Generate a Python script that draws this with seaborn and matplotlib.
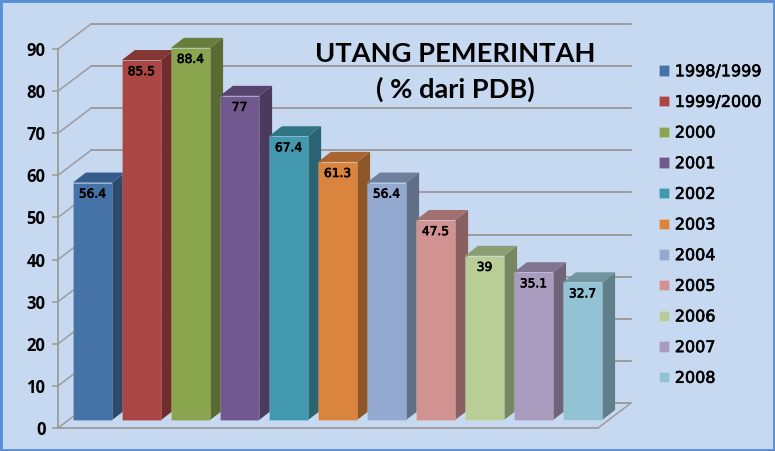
import matplotlib
matplotlib.use('Agg')
import matplotlib.pyplot as plt
import matplotlib.patheffects as pe
import pandas as pd
import seaborn as sns
from matplotlib.patches import Polygon, Rectangle

periods = ['1998/1999', '1999/2000', '2000', '2001', '2002', '2003',
           '2004', '2005', '2006', '2007', '2008']
debt = [56.4, 85.5, 88.4, 77, 67.4, 61.3, 56.4, 47.5, 39, 35.1, 32.7]
front_colors = ['#4572A7', '#AA4643', '#89A54E', '#71588F', '#4198AF', '#DB843D',
                '#93A9CF', '#D19392', '#B9CD96', '#A99BBD', '#92C3D4']
side_colors = ['#2D4A6D', '#6F2E2C', '#596B33', '#4A3A5D', '#2A6372', '#8F5628',
               '#606E87', '#886060', '#798662', '#6E657B', '#5F7F8A']
top_colors = ['#355C8A', '#843634', '#687E3C', '#57446E', '#317585', '#A86530',
              '#707F9D', '#A07070', '#8D9D73', '#817690', '#70959F']
y_ticks = [0, 10, 20, 30, 40, 50, 60, 70, 80, 90]

bg = '#C6D9F1'
W, H = 775, 451
PX_PER_UNIT = 4.21
BAR_PITCH = 49

df = pd.DataFrame({'period': periods, 'debt': debt})

sns.set_style('white')
plt.rcParams['font.family'] = ['DejaVu Sans']

fig = plt.figure(figsize=(W / 100, H / 100), dpi=100, facecolor=bg)

# scale axes, holds the walls and the y ticks
ax0 = fig.add_axes([58 / W, (H - 428) / H, 540 / W, 379 / H], facecolor='none')
ax0.set_xlim(58, 598)
ax0.set_ylim(0, 90)
depth_x, depth_y = 33, 25 / PX_PER_UNIT
wall = '#9C9C9C'
for t in y_ticks:
    ax0.plot([58, 58 + depth_x], [t, t + depth_y], color=wall, lw=1.1, clip_on=False)
    ax0.plot([58 + depth_x, 598 + depth_x], [t + depth_y, t + depth_y], color=wall, lw=1.4, clip_on=False)
ax0.plot([598, 598 + depth_x], [0, depth_y], color=wall, lw=1.1, clip_on=False)
ax0.set_xticks([])
ax0.set_yticks(y_ticks)
ax0.set_yticklabels(y_ticks, fontfamily='Open Sans', fontweight='bold', fontsize=12, color='black')
ax0.tick_params(axis='y', length=4, width=1.2, color=wall, pad=5, left=True)
for s in ['top', 'right']:
    ax0.spines[s].set_visible(False)
for s in ['left', 'bottom']:
    ax0.spines[s].set_color(wall)
    ax0.spines[s].set_linewidth(1.3)

# bars axes fills the figure, 0 sits on the front of the floor
ax = fig.add_axes([0, 0, 1, 1], facecolor='none')
sns.barplot(data=df, x='period', y='debt', hue='period', order=periods, hue_order=periods,
            palette=front_colors, saturation=1, width=0.8, legend=True, ax=ax,
            edgecolor='#FFFFFF28', linewidth=0.6)
ax.set_xlim((0 - 92.5) / BAR_PITCH, (W - 92.5) / BAR_PITCH)
ax.set_ylim(-(H - 420) / PX_PER_UNIT, 420 / PX_PER_UNIT)
ax.set_axis_off()

dx, dy = 13 / BAR_PITCH, 10 / PX_PER_UNIT
bars = sorted([p for p in ax.patches if p.get_height() > 0], key=lambda p: p.get_x())
for i, p in enumerate(bars):
    x0, x1, h = p.get_x(), p.get_x() + p.get_width(), p.get_height()
    ax.add_patch(Polygon([(x1, 0), (x1 + dx, dy), (x1 + dx, h + dy), (x1, h)],
                         facecolor=side_colors[i], edgecolor='none', zorder=2 + i * 0.01))
    ax.add_patch(Polygon([(x0, h), (x0 + dx, h + dy), (x1 + dx, h + dy), (x1, h)],
                         facecolor=top_colors[i], edgecolor='none', zorder=2 + i * 0.01))
    p.set_zorder(4)

heavy = [pe.withStroke(linewidth=0.45, foreground='black')]
for c in ax.containers:
    for lab in ax.bar_label(c, fmt='%g', padding=-13, fontsize=8.8, color='black'):
        lab.set_zorder(6)
        lab.set_path_effects(heavy)

ax.text((455 - 92.5) / BAR_PITCH, (420 - 72) / PX_PER_UNIT, 'UTANG PEMERINTAH\n( % dari PDB)',
        ha='center', va='center', fontfamily='Lato', fontweight='bold', fontsize=19.6,
        linespacing=1.5, color='black', zorder=6)

handles, labels = ax.get_legend_handles_labels()
leg = ax.legend(handles, labels, loc='center left', bbox_to_anchor=(659 / W, (H - 225) / H),
                bbox_transform=fig.transFigure, frameon=False, fontsize=11.5,
                handlelength=0.63, handleheight=0.63, handletextpad=0.36,
                labelspacing=0.98, borderpad=0, borderaxespad=0, labelcolor='black')
for t in leg.get_texts():
    t.set_path_effects(heavy)

fig.add_artist(Rectangle((0, 0), 1, 1, transform=fig.transFigure, fill=False,
                         edgecolor='#5B8FD5', linewidth=3.5))

fig.savefig('out.png', dpi=100, facecolor=bg)
